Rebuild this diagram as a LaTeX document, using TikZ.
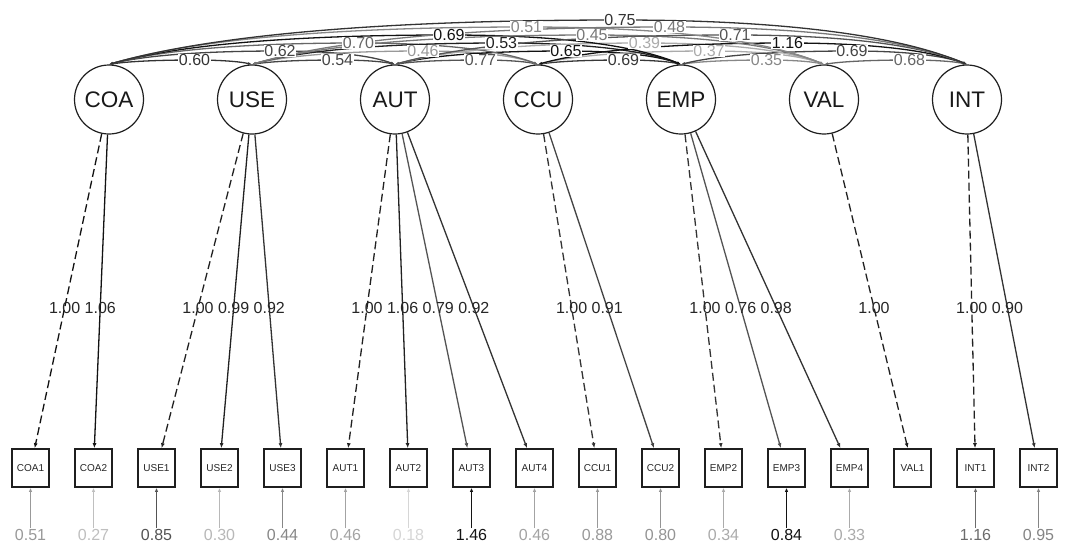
\documentclass[tikz,border=0pt]{standalone}
\usepackage{fontspec}
\setmainfont{Liberation Sans}
\usetikzlibrary{arrows.meta,calc}
\begin{document}
\begin{tikzpicture}[x=1pt,y=-1pt,
  latent/.style={circle,draw=black!88,line width=1.2pt,minimum size=69pt,inner sep=0pt,
    font=\fontsize{22.5}{24}\selectfont,text=black!90},
  indic/.style={rectangle,draw=black!88,line width=1.7pt,minimum width=37pt,minimum height=38pt,
    inner sep=0pt,font=\fontsize{10}{12}\selectfont,text=black!85},
  load/.style={line width=1.3pt,-{Latex[length=5pt,width=4pt]}},
  dsh/.style={dash pattern=on 8pt off 4pt},
  resid/.style={line width=1.5pt,-{Latex[length=4pt,width=3.5pt]}},
  corr/.style={line width=1.3pt,{Latex[length=4pt,width=3pt]}-{Latex[length=4pt,width=3pt]}},
  numlab/.style={font=\fontsize{16}{18}\selectfont,inner sep=1pt},
  corrlab/.style={numlab,fill=white,inner sep=0.8pt}
]
\useasboundingbox (0,0) rectangle (1068,549);
\fill[white] (0,0) rectangle (1068,549);

% latent factors
\foreach \n [count=\i from 0] in {COA,USE,AUT,CCU,EMP,VAL,INT}
  \node[latent] (\n) at ({109+143*\i},99.5) {\n};

% observed indicators
\foreach \n [count=\j from 0] in {COA1,COA2,USE1,USE2,USE3,AUT1,AUT2,AUT3,AUT4,CCU1,CCU2,EMP2,EMP3,EMP4,VAL1,INT1,INT2}
  \node[indic] (\n) at ({30.5+63*\j},468) {\n};

% factor loadings
\foreach \l/\m/\v/\c/\s in {
  COA/COA1/1.00/black!93/dsh, COA/COA2/1.06/black!93/solid,
  USE/USE1/1.00/black!87/dsh, USE/USE2/0.99/black!87/solid, USE/USE3/0.92/black!80/solid,
  AUT/AUT1/1.00/black!87/dsh, AUT/AUT2/1.06/black!87/solid, AUT/AUT3/0.79/black!67/solid, AUT/AUT4/0.92/black!80/solid,
  CCU/CCU1/1.00/black!80/dsh, CCU/CCU2/0.91/black!73/solid,
  EMP/EMP2/1.00/black!80/dsh, EMP/EMP3/0.76/black!67/solid, EMP/EMP4/0.98/black!80/solid,
  VAL/VAL1/1.00/black!87/dsh,
  INT/INT1/1.00/black!87/dsh, INT/INT2/0.90/black!80/solid}
{
  \draw[load,draw=\c,\s] (\l) -- (\m);
  \node[numlab,text=black!85] (lab\m) at ($(\l)!0.565!(\m)$) {\v};
}

% residual variances
\foreach \m/\v/\c in {
  COA1/0.51/black!40, COA2/0.27/black!25, USE1/0.85/black!67, USE2/0.30/black!28,
  USE3/0.44/black!47, AUT1/0.46/black!36, AUT2/0.18/black!16, AUT3/1.46/black!92,
  AUT4/0.46/black!36, CCU1/0.88/black!40, CCU2/0.80/black!42, EMP2/0.34/black!33,
  EMP3/0.84/black!93, EMP4/0.33/black!33, INT1/1.16/black!58, INT2/0.95/black!48}
{
  \node[numlab,text=\c] (r\m) at (\m |- 0,535) {\v};
  \draw[resid,draw=\c] (r\m) -- (\m);
}

% factor covariances
\def\corrlist{
  COA/USE/0/1/0.60/black!80, USE/AUT/1/2/0.54/black!73, AUT/CCU/2/3/0.77/black!67,
  CCU/EMP/3/4/0.69/black!78, EMP/VAL/4/5/0.35/black!47, VAL/INT/5/6/0.68/black!60,
  COA/AUT/0/2/0.62/black!73, USE/CCU/1/3/0.46/black!40, AUT/EMP/2/4/0.65/black!93,
  CCU/VAL/3/5/0.37/black!33, EMP/INT/4/6/0.69/black!73,
  COA/CCU/0/3/0.70/black!60, USE/EMP/1/4/0.53/black!87, AUT/VAL/2/5/0.39/black!33,
  CCU/INT/3/6/1.16/black!93,
  COA/EMP/0/4/0.69/black!93, USE/VAL/1/5/0.45/black!53, AUT/INT/2/6/0.71/black!67,
  COA/VAL/0/5/0.51/black!47, USE/INT/1/6/0.48/black!53,
  COA/INT/0/6/0.75/black!80}
\foreach \a/\b/\ia/\ib/\v/\c in \corrlist
{
  \pgfmathtruncatemacro\dd{\ib-\ia}
  \pgfmathsetmacro\xa{109+143*\ia}
  \pgfmathsetmacro\xb{109+143*\ib}
  \pgfmathsetmacro\off{{14,28,35,54,60,82}[\dd-1]}
  \pgfmathsetmacro\xl{(\xa+\xb)/2+\off}
  \pgfmathsetmacro\yl{{60,51,43,35,27,20}[\dd-1]}
  \coordinate (L\a\b) at (\xl,\yl);
  \draw[corr,draw=\c] (\a.north)
    .. controls ({\xa+0.2*(\xl-\xa)},{65+2/3*(\yl-65)}) and ({\xl-0.4667*(\xl-\xa)},\yl) .. (L\a\b)
    .. controls ({\xl+0.4667*(\xb-\xl)},\yl) and ({\xb-0.2*(\xb-\xl)},{65+2/3*(\yl-65)}) .. (\b.north);
}
\foreach \a/\b/\ia/\ib/\v/\c in \corrlist
  \node[corrlab,text=\c] (c\a\b) at (L\a\b) {\v};
\end{tikzpicture}
\end{document}
